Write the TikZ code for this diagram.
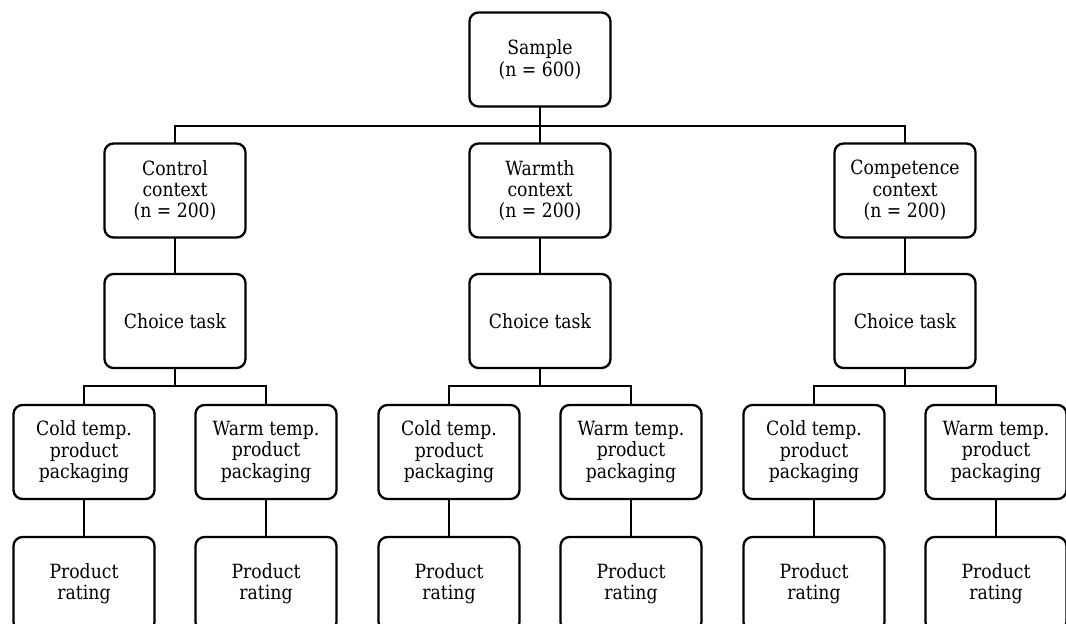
\documentclass[tikz,border=0pt]{standalone}
\usepackage{fontspec}
\setmainfont{DejaVu Serif}[FakeStretch=0.88]
\begin{document}
\begin{tikzpicture}[x=1pt,y=-1pt,
  box/.style={draw=black, line width=2.3pt, rounded corners=9pt, fill=white,
    minimum width=141pt, minimum height=94pt, inner sep=0pt, outer sep=0pt,
    align=center, font=\fontsize{19.6}{21.4}\selectfont},
  link/.style={draw=black, line width=2.3pt}]
\useasboundingbox (0,0) rectangle (1066,624);
\clip (0,0) rectangle (1066,624);
\fill[white] (0,0) rectangle (1066,624);
% top
\node[box] (s) at (540,59.5) {Sample\\(n = 600)};
% contexts
\node[box] (k1) at (175,190.5) {Control\\context\\(n = 200)};
\node[box] (k2) at (540,190.5) {Warmth\\context\\(n = 200)};
\node[box] (k3) at (905,190.5) {Competence\\context\\(n = 200)};
% choice
\node[box] (h1) at (175,321) {Choice task};
\node[box] (h2) at (540,321) {Choice task};
\node[box] (h3) at (905,321) {Choice task};
% leaves
\node[box] (c1) at (84,452) {Cold temp.\\product\\packaging};
\node[box] (w1) at (266,452) {Warm temp.\\product\\packaging};
\node[box] (c2) at (449,452) {Cold temp.\\product\\packaging};
\node[box] (w2) at (631,452) {Warm temp.\\product\\packaging};
\node[box] (c3) at (814,452) {Cold temp.\\product\\packaging};
\node[box] (w3) at (996,452) {Warm temp.\\product\\packaging};
% ratings
\node[box] (r1) at (84,584) {Product\\rating};
\node[box] (r2) at (266,584) {Product\\rating};
\node[box] (r3) at (449,584) {Product\\rating};
\node[box] (r4) at (631,584) {Product\\rating};
\node[box] (r5) at (814,584) {Product\\rating};
\node[box] (r6) at (996,584) {Product\\rating};
% connectors
\draw[link] (k1.north) -- ++(0,-17.5) -| (k3.north);
\draw[link] (s.south) -- (k2.north);
\draw[link] (k1.south) -- (h1.north);
\draw[link] (k2.south) -- (h2.north);
\draw[link] (k3.south) -- (h3.north);
\draw[link] (c1.north) -- ++(0,-19) -| (w1.north);
\draw[link] (c2.north) -- ++(0,-19) -| (w2.north);
\draw[link] (c3.north) -- ++(0,-19) -| (w3.north);
\draw[link] (h1.south) -- ++(0,18);
\draw[link] (h2.south) -- ++(0,18);
\draw[link] (h3.south) -- ++(0,18);
\draw[link] (c1.south) -- (r1.north);
\draw[link] (w1.south) -- (r2.north);
\draw[link] (c2.south) -- (r3.north);
\draw[link] (w2.south) -- (r4.north);
\draw[link] (c3.south) -- (r5.north);
\draw[link] (w3.south) -- (r6.north);
\end{tikzpicture}
\end{document}
